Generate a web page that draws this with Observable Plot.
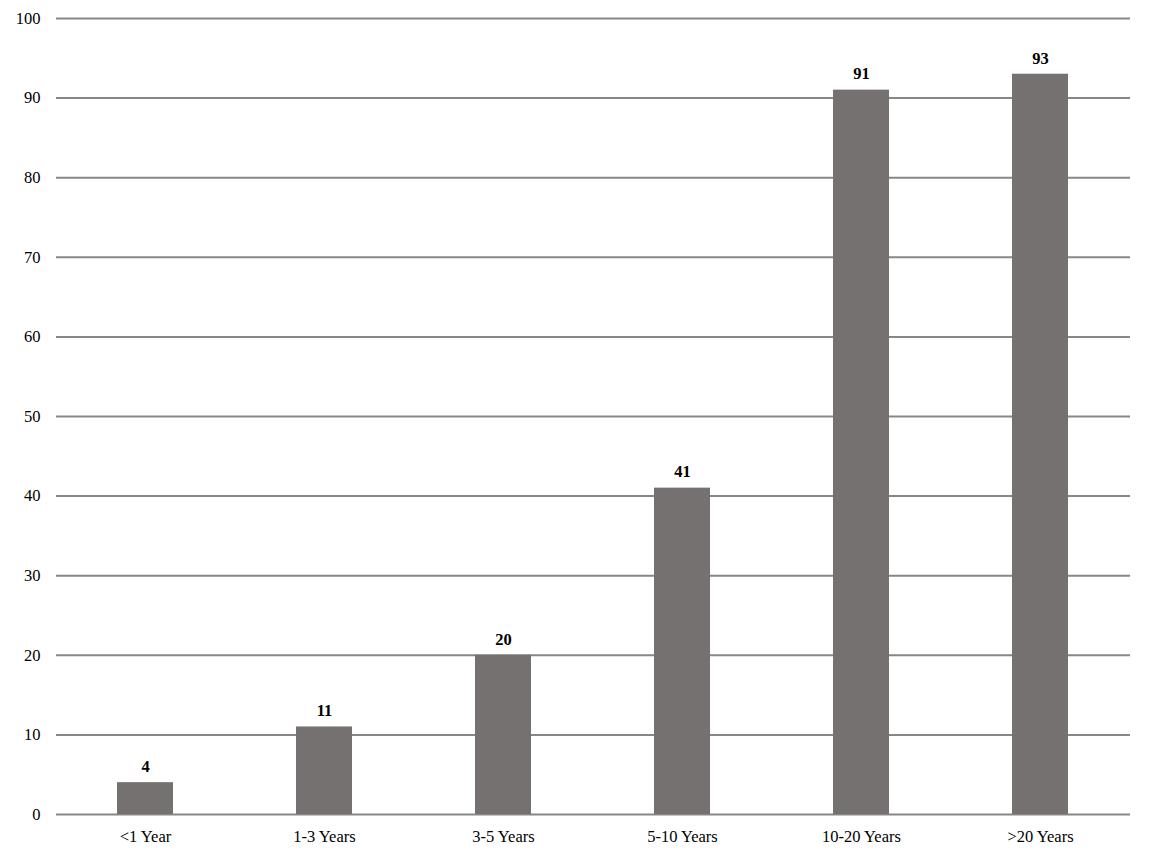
<!DOCTYPE html>
<html>
<head>
<meta charset="utf-8">
<script src="https://cdn.jsdelivr.net/npm/d3@7"></script>
<script src="https://cdn.jsdelivr.net/npm/@observablehq/plot@0.6"></script>
<style>
  html, body { margin: 0; padding: 0; background: #fff; }
  #chart svg { display: block; }
</style>
</head>
<body>
<div id="chart"></div>
<script>
const categories = ["<1 Year", "1-3 Years", "3-5 Years", "5-10 Years", "10-20 Years", ">20 Years"];
const values = [4, 11, 20, 41, 91, 93];
const yTicks = [0, 10, 20, 30, 40, 50, 60, 70, 80, 90, 100];

const data = categories.map((c, i) => ({category: c, value: values[i]}));

const chart = Plot.plot({
  width: 1155,
  height: 865,
  marginLeft: 56,
  marginRight: 25,
  marginTop: 18,
  marginBottom: 51,
  style: {fontFamily: "'Liberation Serif', 'Times New Roman', serif", fontSize: "16.5px", color: "#000", background: "#fff"},
  x: {domain: categories, paddingInner: 0.687, paddingOuter: 0.3435, label: null, tickSize: 0, tickPadding: 16},
  y: {domain: [0, 100], ticks: yTicks, label: null, tickSize: 0, tickPadding: 16},
  marks: [
    Plot.ruleY(yTicks, {stroke: "#878787", strokeWidth: 2}),
    Plot.barY(data, {x: "category", y: "value", fill: "#767171"}),
    Plot.text(data, {x: "category", y: "value", text: d => String(d.value), dy: -16, fontWeight: "bold", fontSize: 16.5, fill: "#000"})
  ]
});
document.getElementById("chart").appendChild(chart);
</script>
</body>
</html>
